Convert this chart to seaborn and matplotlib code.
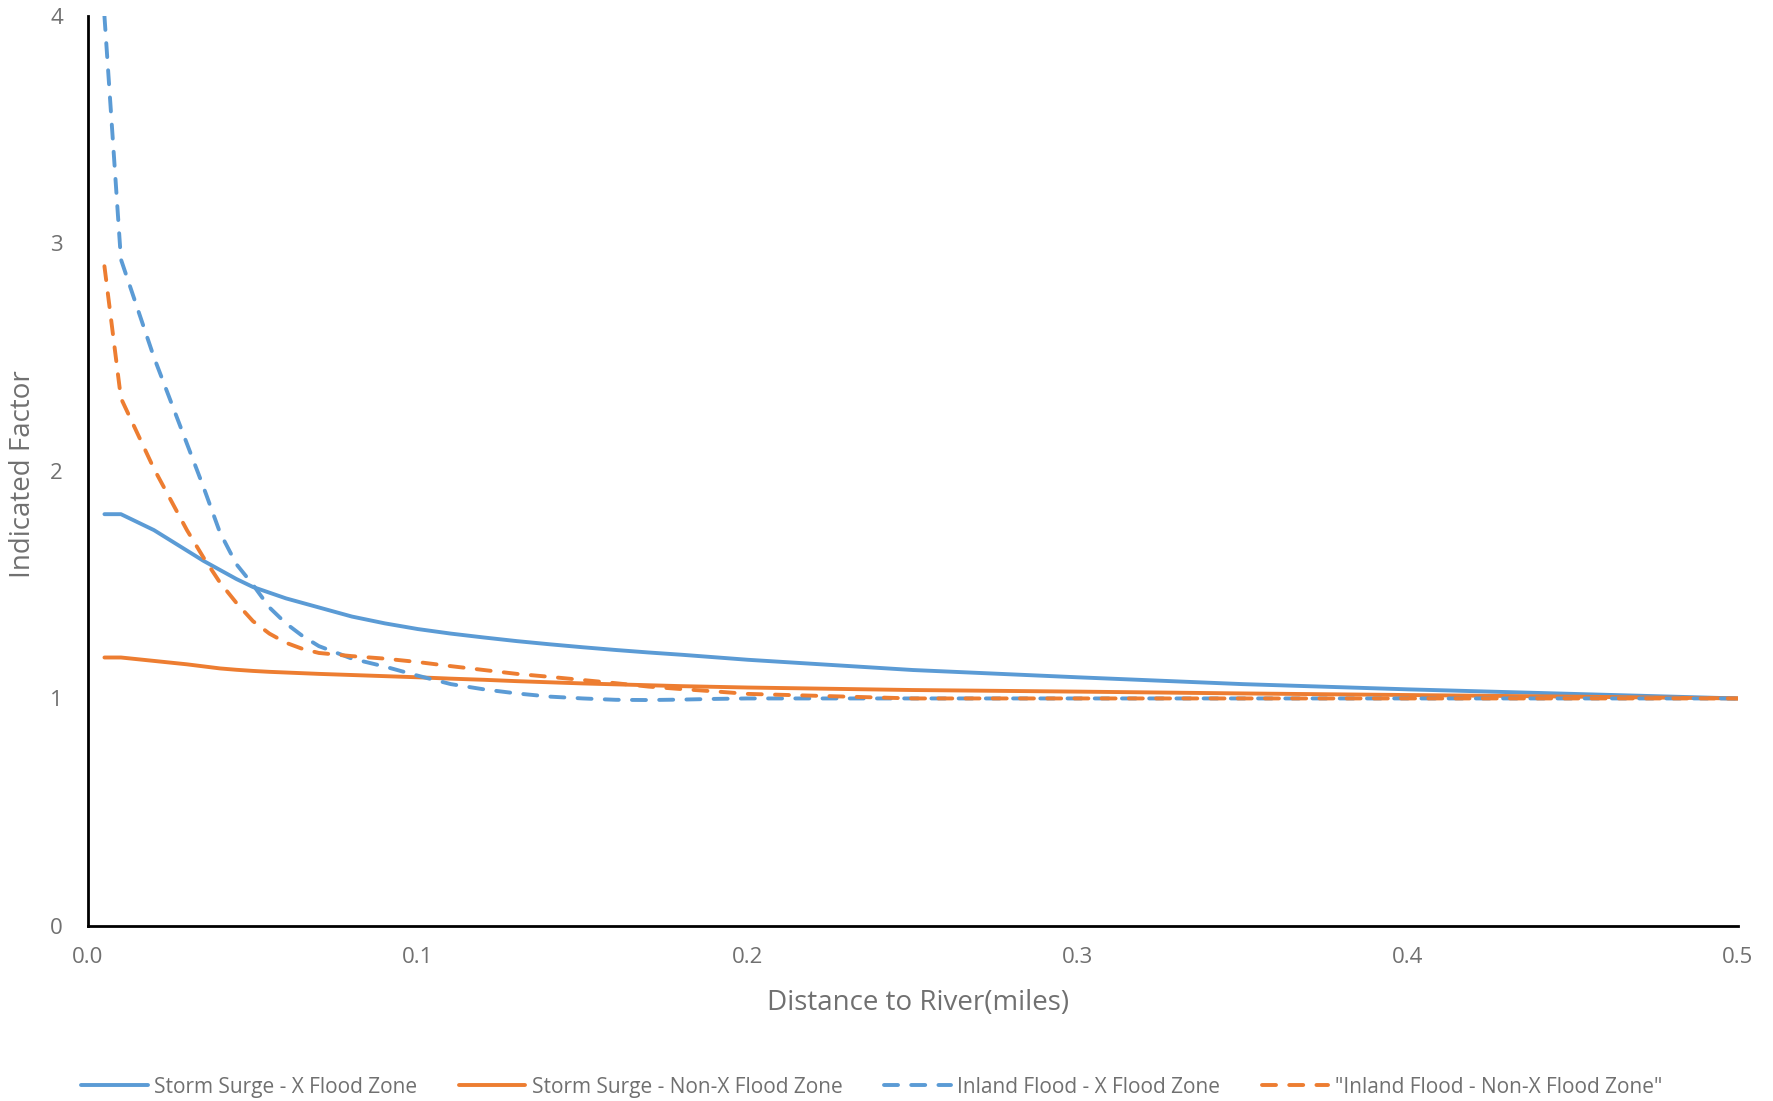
import seaborn as sns
import matplotlib.pyplot as plt
import pandas as pd
from matplotlib.lines import Line2D

# distance to river (miles)
distance = [0.005, 0.01, 0.02, 0.03, 0.035, 0.04, 0.045, 0.05, 0.055, 0.06,
            0.065, 0.07, 0.08, 0.09,
            0.10, 0.11, 0.12, 0.13, 0.14, 0.15, 0.16, 0.17, 0.18, 0.19,
            0.20, 0.25, 0.30, 0.35, 0.40, 0.45, 0.50]

surge_x = [1.81, 1.81, 1.74, 1.65, 1.605, 1.565, 1.525, 1.49, 1.465, 1.44,
           1.42, 1.40, 1.36, 1.33,
           1.305, 1.285, 1.268, 1.252, 1.238, 1.225, 1.213, 1.202, 1.192, 1.181,
           1.17, 1.125, 1.093, 1.063, 1.04, 1.02, 1.0]
surge_nonx = [1.18, 1.18, 1.165, 1.15, 1.141, 1.132, 1.126, 1.121, 1.117, 1.114,
              1.111, 1.108, 1.103, 1.098,
              1.093, 1.087, 1.082, 1.076, 1.071, 1.066, 1.062, 1.058, 1.054, 1.051,
              1.048, 1.037, 1.03, 1.022, 1.015, 1.008, 1.0]
inland_x = [4.0, 2.93, 2.50, 2.12, 1.93, 1.73, 1.59, 1.50, 1.40, 1.33,
            1.275, 1.23, 1.175, 1.14,
            1.10, 1.063, 1.04, 1.022, 1.008, 1.0, 0.994, 0.993, 0.995, 0.998,
            1.0, 1.0, 1.0, 1.0, 1.0, 1.0, 1.0]
inland_nonx = [2.90, 2.32, 2.01, 1.74, 1.62, 1.51, 1.42, 1.34, 1.285, 1.245,
               1.218, 1.20, 1.186, 1.175,
               1.16, 1.142, 1.125, 1.108, 1.095, 1.081, 1.067, 1.052, 1.041, 1.031,
               1.02, 1.0, 1.0, 1.0, 1.0, 1.0, 1.0]

names = ["Storm Surge - X Flood Zone", "Storm Surge - Non-X Flood Zone",
         "Inland Flood - X Flood Zone", "\"Inland Flood - Non-X Flood Zone\""]
series = [surge_x, surge_nonx, inland_x, inland_nonx]

BLUE = "#5B9BD5"
ORANGE = "#ED7D31"
GREY = "#707070"
colors = {names[0]: BLUE, names[1]: ORANGE, names[2]: BLUE, names[3]: ORANGE}
dash = (3.6, 3.4)
dashes = {names[0]: "", names[1]: "", names[2]: dash, names[3]: dash}

rows = []
for n, vals in zip(names, series):
    for d, v in zip(distance, vals):
        rows.append({"distance": d, "factor": v, "series": n})
df = pd.DataFrame(rows)

sns.set_style("white")
plt.rcParams['font.family'] = ['Open Sans', 'DejaVu Sans']

fig = plt.figure(figsize=(17.73, 11.01), dpi=100)
ax = fig.add_axes([0.0496, 0.159, 0.9304, 0.8265])

sns.lineplot(data=df, x="distance", y="factor", hue="series", style="series",
             palette=colors, dashes=dashes, hue_order=names, style_order=names,
             linewidth=2.8, ax=ax, legend=False)
for ln in ax.lines:
    ln.set_dash_capstyle("round")
    ln.set_solid_capstyle("round")

ax.set_xlim(0, 0.5)
ax.set_ylim(0, 4)
ax.set_xticks([0.0, 0.1, 0.2, 0.3, 0.4, 0.5])
ax.set_xticklabels(["0.0", "0.1", "0.2", "0.3", "0.4", "0.5"])
ax.set_yticks([0, 1, 2, 3, 4])
ax.set_yticklabels(["0", "1", "2", "3", "4"])
ax.tick_params(axis="both", length=0, labelsize=16, labelcolor=GREY)
ax.tick_params(axis="x", pad=15)
ax.tick_params(axis="y", pad=18)

for s in ["top", "right"]:
    ax.spines[s].set_visible(False)
for s in ["left", "bottom"]:
    ax.spines[s].set_color("black")
    ax.spines[s].set_linewidth(2)

ax.set_xlabel("Distance to River(miles)", fontsize=20, color=GREY)
ax.set_ylabel("Indicated Factor", fontsize=20, color=GREY)
ax.xaxis.set_label_coords(0.503, -0.069)
ax.yaxis.set_label_coords(-0.031, 0.496)

handles = [Line2D([], [], color=colors[n], lw=2.8,
                  linestyle="-" if dashes[n] == "" else (0, dash),
                  dash_capstyle="round", solid_capstyle="round") for n in names]
fig.legend(handles, names, loc="center", bbox_to_anchor=(0.4915, 0.0125), ncol=4,
           frameon=False, fontsize=15, labelcolor=GREY, handlelength=3.2,
           handletextpad=0.3, columnspacing=2.0)

plt.savefig("out.png", dpi=100)
